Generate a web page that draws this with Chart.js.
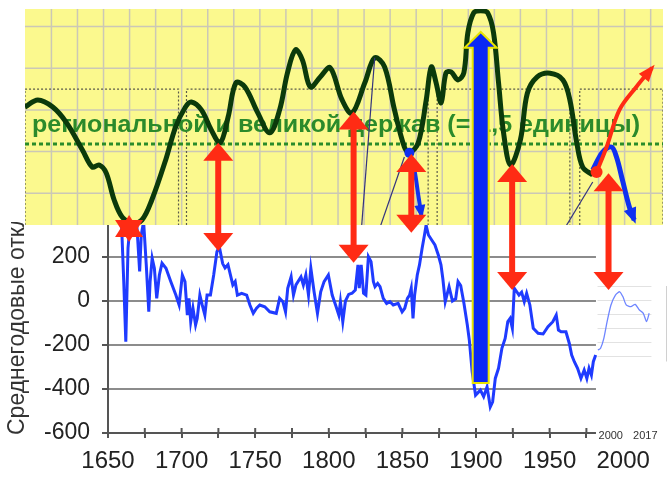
<!DOCTYPE html>
<html lang="ru">
<head>
<meta charset="UTF-8">
<title>Среднегодовые отклонения и держава</title>
<script src="https://cdn.jsdelivr.net/npm/chart.js"></script>
<style>
  body { margin: 0; background: #fff; }
  #wrap { position: relative; width: 669px; height: 478px; }
  #wrap canvas { position: absolute; left: 0; top: 0; }
</style>
</head>
<body>
<div id="wrap">
  <canvas id="bottomChart" width="669" height="478"></canvas>
  <canvas id="topChart" width="669" height="478"></canvas>
</div>
<script>
// ---- нижний график: среднегодовые отклонения ----
const mainYears = [1658, 1659.2, 1660.7, 1662.1, 1663.6, 1664.8, 1667, 1669.7, 1671.5, 1672.6, 1674.2, 1676, 1677.7, 1678.6, 1680, 1681.5, 1683.1, 1684.9, 1686.7, 1689.4,
  1692.7, 1696.1, 1698.3, 1700.5, 1702.3, 1703.9, 1705, 1706.2, 1707.7, 1709.5, 1710.6, 1712.4, 1714, 1715.8, 1717.3, 1719.6, 1721.8, 1724, 1725.6, 1727.9,
  1729.5, 1731.5, 1734.8, 1736.4, 1737.9, 1740.8, 1744.2, 1746.4, 1748.7, 1750.9, 1753.1, 1756.5, 1759.9, 1764.3, 1766.6, 1768.8, 1770.6, 1772.1, 1774.4, 1776,
  1777.7, 1781.1, 1782.7, 1784.4, 1786.2, 1787.8, 1790, 1792.3, 1794.5, 1796.8, 1799.7, 1802.3, 1804.6, 1806.8, 1807.9, 1809.5, 1811.3, 1813.5, 1815.8, 1818,
  1819.8, 1820.7, 1822, 1823.6, 1825.2, 1826.9, 1828.7, 1830.3, 1831.4, 1833.2, 1834.8, 1837, 1839.3, 1841.5, 1843.8, 1847.1, 1849.8, 1851.6, 1853.4, 1854.9,
  1856, 1857.2, 1858.3, 1860.1, 1861.6, 1863.4, 1865, 1866.1, 1867.7, 1869.9, 1872.1, 1874.4, 1876.2, 1877.5, 1879.1, 1881.7, 1884, 1886.2, 1887.8, 1889.6,
  1891.8, 1894.1, 1895.5, 1897.4, 1899.7, 1903, 1905.2, 1907.5, 1909.7, 1911.3, 1913.1, 1915.3, 1917.6, 1919.8, 1921.6, 1923.2, 1924.7, 1926, 1927.7, 1929.2,
  1931, 1932.8, 1934.4, 1936.6, 1938.9, 1942.2, 1945.6, 1948.9, 1952.2, 1954.5, 1956, 1957.8, 1961.1, 1963.4, 1965, 1966.8, 1969, 1971.3, 1973.5, 1975.3,
  1976.8, 1978.4, 1979.7, 1981.3];
const mainValues = [380, 350, 88, -185, 241, 333, 380, 333, 134, 301, 360, 164, -49, 88, 195, 149, 12, 118, 172, 149,
  88, 27, -18, 118, 88, -64, 12, -94, -32, -109, -79, 27, -18, -64, 27, 27, 118, 224, 247, 170,
  150, 165, 73, 88, 27, 35, 27, -18, -56, -33, -18, -26, -49, -56, 12, -3, -49, 58, 110, 27,
  73, 110, 73, 118, 27, 149, 42, -56, 42, 88, 118, 27, -18, -64, -3, -94, 0, 30, 35, 50,
  164, 58, 164, 35, 27, 202, 179, 88, 65, 80, 65, 12, -11, -3, -18, -11, -49, -33, 12, 27,
  58, -79, 27, 118, 164, 240, 300, 345, 300, 277, 255, 209, 164, 100, -3, 65, 0, 10, 88, 70,
  -10, -109, -180, -322, -428, -405, -435, -390, -481, -458, -352, -306, -215, -170, -94, -79, -124, 58, 42, 27,
  40, -3, 35, -18, -124, -147, -150, -117, -94, -64, -132, -140, -140, -193, -246, -276, -306, -352, -314, -352,
  -306, -337, -276, -246];

// вставка 2000–2017 (своя шкала лет)
const insetYears = [1993.7, 1995.0, 1996.6, 1998.2, 2000.1, 2002.3, 2004.4, 2006.0, 2007.6, 2009.9, 2012.0, 2014.1, 2016.0, 2017.6, 2018.9];
const insetValues = [-223, -215, -170, -94, -18, 27, 42, 19, -18, -26, -15, -41, -56, -94, -56];
const insetTickYears = [2000, 2017];
const insetGridLevels = [68, 5, -59, -123, -186, -250];

const xTickYears = [1650, 1675, 1700, 1725, 1750, 1775, 1800, 1825, 1850, 1875, 1900, 1925, 1950, 1975, 2000, 2025];
const yTickValues = [-600, -500, -400, -300, -200, -100, 0, 100, 200, 300, 400];

// ---- верхняя панель: кривая держав ----
const greenYears = [1594.3, 1603.0, 1613.1, 1622.5, 1633.2, 1639.9, 1644.6, 1649.3, 1654.7, 1660.1, 1666.8, 1673.5, 1680.2, 1689.6, 1696.3, 1703.0, 1707.0, 1713.8, 1720.5, 1726.5,
  1731.9, 1737.2, 1743.3, 1752.0, 1760.1, 1766.8, 1772.1, 1777.5, 1782.2, 1787.6, 1794.3, 1801.0, 1809.1, 1815.8, 1824.5, 1831.2, 1837.9, 1844.6, 1851.3, 1854.7,
  1860.7, 1866.1, 1869.5, 1872.8, 1876.2, 1879.5, 1882.9, 1887.6, 1891.6, 1894.3, 1898.3, 1903.0, 1907.7, 1911.7, 1915.1, 1918.5, 1923.2, 1929.9, 1934.6, 1941.3,
  1950.0, 1958.7, 1963.4, 1968.1, 1972.1, 1978.9];
const greenLevels = [3.07, 3.24, 3.07, 2.69, 2.04, 1.63, 1.68, 1.49, 0.84, 0.43, 0.29, 0.36, 0.84, 1.80, 2.59, 3.07, 3.19, 3.00, 2.52, 2.21,
  2.83, 3.65, 3.55, 2.93, 2.45, 3.00, 3.89, 4.44, 4.20, 3.55, 3.79, 4.01, 3.24, 2.92, 3.65, 4.25, 4.03, 3.00, 2.11, 1.97,
  2.21, 3.24, 4.03, 3.65, 3.17, 3.89, 3.91, 3.72, 3.89, 4.85, 5.33, 5.38, 5.33, 4.85, 3.65, 2.45, 1.68, 2.28, 3.40, 3.79,
  3.88, 3.72, 3.24, 2.21, 1.63, 1.44];

const redForecastYears = [1981.5, 1988.3, 1997.0, 2008.4, 2019.1];
const redForecastLevels = [1.51, 2.11, 3.00, 3.55, 4.01];
const blueForecastYears = [1978.9, 1985.6, 1991.6, 1995.0, 1999.0, 2003.7, 2007.0];
const blueForecastLevels = [1.56, 1.99, 2.11, 1.87, 1.32, 0.67, 0.36];
const blueDropYears = [1854.7, 1858.1, 1860.7, 1862.8];
const blueDropLevels = [1.97, 1.56, 0.96, 0.48];
const pointerLines = [
  [[1831.2, 4.25], [1822.0, 0.05]],
  [[1851.3, 1.87], [1833.5, 0.05]],
  [[1978.9, 1.27], [1958.0, 0.05]]
];

// красные двойные стрелки: год, уровень на панели, значение на нижнем графике
const arrowYears = [1664.8, 1725.2, 1816.9, 1856.0, 1924.3, 1989.6];
const arrowTopLevels = [0.48, 2.21, 2.96, 1.94, 1.70, 1.48];
const arrowBottomValues = [268, 227, 174, 310, 50, 50];

// синяя стрелка-столбец 1903
const barYear = 1903;
const barBottomValue = -373;
const barHeadBaseLevel = 4.49;
const barHeadTipLevel = 4.87;

// рамки и уровни панели
const boxEdges = [[1594.3, 1698.3], [1703.7, 1867.4], [1873.5, 1963.4], [1970.1, 2026.5]];
const boxTopLevel = 3.5;
const thresholdLevel = 2.18;
const panelGridLevels = [1, 2, 3, 4, 5];
const panelLabel = 'региональной и великой держав (= 1,5 единицы)';

const FONT = "'Liberation Sans', Arial, sans-serif";
const RED = '#ff2b14';
const BLUE = '#1f3bff';

function pts(xs, ys) { return xs.map((x, i) => ({ x: x, y: ys[i] })); }

const insetPlugin = {
  id: 'inset',
  beforeDatasetsDraw(chart) {
    const { ctx } = chart;
    const x = chart.scales.x, y = chart.scales.y, xi = chart.scales.xInset;
    const bottom = chart.chartArea.bottom;
    ctx.save();
    // штрихи оси, пересекающие линию
    ctx.strokeStyle = '#555';
    ctx.lineWidth = 2;
    xTickYears.forEach(v => {
      const px = x.getPixelForValue(v);
      ctx.beginPath(); ctx.moveTo(px, bottom - 5); ctx.lineTo(px, bottom); ctx.stroke();
    });
    const left = x.getPixelForValue(1981.5);
    ctx.fillStyle = '#fff';
    ctx.fillRect(left, 222, chart.width - left, 226);
    ctx.strokeStyle = '#e2e2e2';
    ctx.lineWidth = 1;
    insetGridLevels.forEach(v => {
      const py = Math.round(y.getPixelForValue(v)) + 0.5;
      ctx.beginPath();
      ctx.moveTo(xi.getPixelForValue(1993.5), py);
      ctx.lineTo(xi.getPixelForValue(2020), py);
      ctx.stroke();
    });
    ctx.strokeStyle = '#d0d0d0';
    ctx.beginPath();
    ctx.moveTo(chart.width - 2.5, y.getPixelForValue(68));
    ctx.lineTo(chart.width - 2.5, y.getPixelForValue(-275));
    ctx.stroke();
    ctx.fillStyle = '#333';
    ctx.font = '11px ' + FONT;
    ctx.textAlign = 'center';
    ctx.textBaseline = 'middle';
    insetTickYears.forEach(yr => ctx.fillText(String(yr), xi.getPixelForValue(yr), 436));
    ctx.restore();
  }
};

const yTitlePlugin = {
  id: 'yTitle',
  afterDraw(chart) {
    const { ctx } = chart;
    ctx.save();
    ctx.beginPath();
    ctx.rect(0, 222, 40, 256);
    ctx.clip();
    ctx.translate(18, chart.chartArea.bottom + 2);
    ctx.rotate(-Math.PI / 2);
    ctx.fillStyle = '#333';
    ctx.font = '23px ' + FONT;
    ctx.textAlign = 'left';
    ctx.textBaseline = 'middle';
    ctx.fillText('Среднегодовые отклонения', 0, 0);
    ctx.restore();
  }
};

const bottomChart = new Chart(document.getElementById('bottomChart'), {
  type: 'line',
  data: {
    datasets: [
      { data: pts(insetYears, insetValues), xAxisID: 'xInset', borderColor: '#6f86ff', borderWidth: 1.3, pointRadius: 0, tension: 0.2 },
      { data: pts(mainYears, mainValues), borderColor: BLUE, borderWidth: 3, pointRadius: 0, tension: 0 }
    ]
  },
  options: {
    responsive: false,
    animation: false,
    events: [],
    layout: { padding: { top: 213, right: 0, left: 0, bottom: 0 } },
    plugins: { legend: { display: false }, tooltip: { enabled: false } },
    scales: {
      x: {
        type: 'linear', min: 1650, max: 2026.5,
        afterBuildTicks: ax => { ax.ticks = xTickYears.map(v => ({ value: v })); },
        afterFit: ax => { ax.height = 45; },
        grid: { drawOnChartArea: false, tickLength: 5, tickColor: '#555', lineWidth: 2 },
        border: { color: '#555', width: 2 },
        ticks: {
          autoSkip: false, maxRotation: 0, padding: 9, color: '#222',
          font: { family: FONT, size: 24 },
          callback: v => (v % 50 === 0 ? String(v) : '')
        }
      },
      xInset: { type: 'linear', display: false, min: 1752.8, max: 2025.3 },
      y: {
        min: -600, max: 400,
        afterBuildTicks: ax => { ax.ticks = yTickValues.map(v => ({ value: v })); },
        afterFit: ax => { ax.width = 108; },
        grid: {
          color: c => (c.tick && c.tick.value % 200 === 0 && c.tick.value > -600 && c.tick.value < 400) ? '#8c8c8c' : 'rgba(0,0,0,0)',
          lineWidth: 2, tickLength: 6, tickColor: '#555'
        },
        border: { color: '#555', width: 2 },
        ticks: {
          padding: 12, color: '#222',
          font: { family: FONT, size: 23 },
          callback: v => (v % 200 === 0 && v < 400 ? String(v) : '')
        }
      }
    }
  },
  plugins: [insetPlugin, yTitlePlugin]
});

function lineHead(ctx, p0, p1, len, wid, color) {
  const a = Math.atan2(p1.y - p0.y, p1.x - p0.x);
  ctx.save();
  ctx.translate(p1.x, p1.y);
  ctx.rotate(a);
  ctx.fillStyle = color;
  ctx.beginPath();
  ctx.moveTo(4, 0);
  ctx.lineTo(-len, -wid / 2);
  ctx.lineTo(-len, wid / 2);
  ctx.closePath();
  ctx.fill();
  ctx.restore();
}

function doubleArrow(ctx, x, yTop, yBot, headH, headW, shaftW) {
  ctx.fillStyle = RED;
  if (yBot - yTop > 2 * headH) {
    ctx.fillRect(x - shaftW / 2, yTop + headH - 1, shaftW, yBot - yTop - 2 * headH + 2);
  }
  ctx.beginPath();
  ctx.moveTo(x, yTop);
  ctx.lineTo(x - headW / 2, yTop + headH);
  ctx.lineTo(x + headW / 2, yTop + headH);
  ctx.closePath();
  ctx.fill();
  ctx.beginPath();
  ctx.moveTo(x, yBot);
  ctx.lineTo(x - headW / 2, yBot - headH);
  ctx.lineTo(x + headW / 2, yBot - headH);
  ctx.closePath();
  ctx.fill();
}

const panelPlugin = {
  id: 'panel',
  beforeDatasetsDraw(chart) {
    const { ctx, chartArea: a } = chart;
    const x = chart.scales.x, y = chart.scales.y;
    ctx.save();
    ctx.fillStyle = '#fbf98e';
    ctx.fillRect(a.left, a.top, a.right - a.left, a.bottom - a.top);
    ctx.beginPath();
    ctx.rect(a.left, a.top, a.right - a.left, a.bottom - a.top);
    ctx.clip();
    // сетка
    ctx.strokeStyle = '#cbc8b6';
    ctx.lineWidth = 1.5;
    for (let yr = 1612.2; yr < 2027; yr += 17.65) {
      const px = x.getPixelForValue(yr);
      ctx.beginPath(); ctx.moveTo(px, a.top); ctx.lineTo(px, a.bottom); ctx.stroke();
    }
    panelGridLevels.forEach(v => {
      const py = y.getPixelForValue(v);
      ctx.beginPath(); ctx.moveTo(a.left, py); ctx.lineTo(a.right, py); ctx.stroke();
    });
    // пунктирные рамки
    ctx.strokeStyle = '#5a5a4a';
    ctx.lineWidth = 1.2;
    ctx.setLineDash([2, 2]);
    const ty = y.getPixelForValue(boxTopLevel);
    boxEdges.forEach(([y0, y1]) => {
      const l = x.getPixelForValue(y0), r = x.getPixelForValue(y1);
      ctx.beginPath();
      ctx.moveTo(l, a.bottom); ctx.lineTo(l, ty); ctx.lineTo(r, ty); ctx.lineTo(r, a.bottom);
      ctx.stroke();
    });
    // порог
    ctx.strokeStyle = '#2a8c2a';
    ctx.lineWidth = 3;
    ctx.setLineDash([4, 3]);
    const thy = y.getPixelForValue(thresholdLevel);
    ctx.beginPath(); ctx.moveTo(a.left, thy); ctx.lineTo(a.right, thy); ctx.stroke();
    ctx.setLineDash([]);
    // надпись
    ctx.font = 'bold 23px ' + FONT;
    ctx.fillStyle = '#2b8a2b';
    ctx.textBaseline = 'alphabetic';
    const w = ctx.measureText(panelLabel).width;
    ctx.translate(32, 132);
    ctx.scale(608 / w, 1);
    ctx.fillText(panelLabel, 0, 0);
    ctx.restore();
  },
  afterDatasetsDraw(chart) {
    const { ctx } = chart;
    const x = chart.scales.x, y = chart.scales.y;
    const by = bottomChart.scales.y;
    // наконечники линий
    const headOf = (i, len, wid, color) => {
      const d = chart.getDatasetMeta(i).data;
      lineHead(ctx, d[d.length - 2], d[d.length - 1], len, wid, color);
    };
    headOf(0, 13, 13, RED);
    headOf(1, 12, 13, '#1030f0');
    headOf(2, 10, 11, '#1030f0');
    // синий столбец
    const cx = x.getPixelForValue(barYear);
    const yb = by.getPixelForValue(barBottomValue);
    const yh = y.getPixelForValue(barHeadBaseLevel);
    const yt = y.getPixelForValue(barHeadTipLevel);
    ctx.save();
    ctx.beginPath();
    ctx.moveTo(cx - 8, yb);
    ctx.lineTo(cx - 8, yh);
    ctx.lineTo(cx - 16, yh);
    ctx.lineTo(cx, yt);
    ctx.lineTo(cx + 16, yh);
    ctx.lineTo(cx + 8, yh);
    ctx.lineTo(cx + 8, yb);
    ctx.closePath();
    ctx.fillStyle = '#0a28f5';
    ctx.fill();
    ctx.strokeStyle = '#e8e400';
    ctx.lineWidth = 2;
    ctx.stroke();
    // красные стрелки
    arrowYears.forEach((yr, i) => {
      const px = x.getPixelForValue(yr);
      const top = y.getPixelForValue(arrowTopLevels[i]);
      const bot = by.getPixelForValue(arrowBottomValues[i]);
      if (i === 0) doubleArrow(ctx, px, top, bot, 22, 28, 6);
      else doubleArrow(ctx, px, top, bot, 18, 30, 6);
    });
    ctx.restore();
  }
};

const topDatasets = [
  { data: pts(redForecastYears, redForecastLevels), borderColor: RED, borderWidth: 4, tension: 0.35,
    pointRadius: c => (c.dataIndex === 0 ? 6 : 0), pointBackgroundColor: RED, pointBorderWidth: 0 },
  { data: pts(blueForecastYears, blueForecastLevels), borderColor: '#1030f0', borderWidth: 5, tension: 0.35, pointRadius: 0 },
  { data: pts(blueDropYears, blueDropLevels), borderColor: '#1030f0', borderWidth: 4, tension: 0.3,
    pointRadius: c => (c.dataIndex === 0 ? 5 : 0), pointBackgroundColor: '#1030f0', pointBorderWidth: 0 }
];
pointerLines.forEach(seg => {
  topDatasets.push({ data: seg.map(p => ({ x: p[0], y: p[1] })), borderColor: '#34347e', borderWidth: 1.2, pointRadius: 0 });
});
topDatasets.push({ data: pts(greenYears, greenLevels), borderColor: '#0b3a0b', borderWidth: 5, tension: 0.35, pointRadius: 0 });

const topChart = new Chart(document.getElementById('topChart'), {
  type: 'line',
  data: { datasets: topDatasets },
  options: {
    responsive: false,
    animation: false,
    events: [],
    layout: { padding: { left: 25, right: 0, top: 9, bottom: 253 } },
    plugins: { legend: { display: false }, tooltip: { enabled: false } },
    scales: {
      x: { type: 'linear', display: false, min: 1594.3, max: 2026.5 },
      y: { display: false, min: 0.24, max: 5.42 }
    }
  },
  plugins: [panelPlugin]
});
</script>
</body>
</html>
